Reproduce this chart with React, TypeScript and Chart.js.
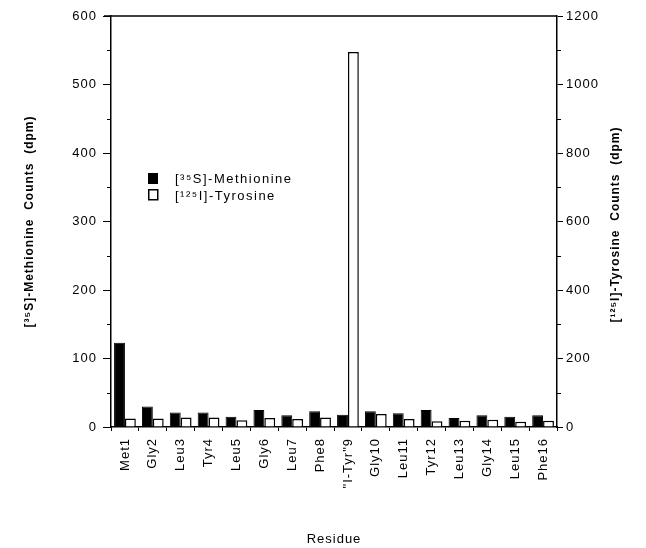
import React, { useEffect, useRef } from "react";
import { Chart, registerables } from "chart.js";

Chart.register(...registerables);

const residues = [
  "Met1", "Gly2", "Leu3", "Tyr4", "Leu5", "Gly6", "Leu7", "Phe8",
  '"I-Tyr"9', "Gly10", "Leu11", "Tyr12", "Leu13", "Gly14", "Leu15", "Phe16",
];
const methionineCounts = [123, 30, 21, 21, 15, 25, 17, 23, 18, 23, 20, 25, 13, 17, 15, 17];
const tyrosineCounts = [25, 25, 28, 28, 20, 26, 23, 28, 1095, 38, 23, 17, 18, 21, 15, 18];
const leftTicks = [0, 100, 200, 300, 400, 500, 600];
const rightTicks = [0, 200, 400, 600, 800, 1000, 1200];
const leftTitle = "[³⁵S]-Methionine  Counts  (dpm)";
const rightTitle = "[¹²⁵I]-Tyrosine  Counts  (dpm)";
const legendLabels = ["[³⁵S]-Methionine", "[¹²⁵I]-Tyrosine"];
const xTitle = "Residue";

const FONT = "'Liberation Sans', Arial, Helvetica, sans-serif";

const decorPlugin = {
  id: "decor",
  beforeInit(chart: any) {
    (chart.ctx as any).letterSpacing = "1px";
  },
  beforeDraw(chart: any) {
    (chart.ctx as any).letterSpacing = "1px";
  },
  afterDraw(chart: any) {
    const ctx = chart.ctx;
    const ca = chart.chartArea;
    const y = chart.scales.y;
    const y1 = chart.scales.y1;
    ctx.save();
    ctx.strokeStyle = "#000";
    ctx.lineWidth = 1.5;
    // top frame line
    ctx.beginPath();
    ctx.moveTo(ca.left - 7, ca.top);
    ctx.lineTo(ca.right, ca.top);
    ctx.stroke();
    // minor ticks
    ctx.lineWidth = 1;
    for (let i = 0; i < leftTicks.length - 1; i++) {
      const v = (leftTicks[i] + leftTicks[i + 1]) / 2;
      const p = Math.round(y.getPixelForValue(v)) + 0.5;
      ctx.beginPath();
      ctx.moveTo(ca.left - 4, p);
      ctx.lineTo(ca.left, p);
      ctx.stroke();
    }
    for (let i = 0; i < rightTicks.length - 1; i++) {
      const v = (rightTicks[i] + rightTicks[i + 1]) / 2;
      const p = Math.round(y1.getPixelForValue(v)) + 0.5;
      ctx.beginPath();
      ctx.moveTo(ca.right, p);
      ctx.lineTo(ca.right + 4, p);
      ctx.stroke();
    }
    // right axis title, reading bottom to top
    ctx.fillStyle = "#000";
    ctx.font = `bold 12px ${FONT}`;
    (ctx as any).letterSpacing = "1px";
    ctx.textAlign = "center";
    ctx.textBaseline = "middle";
    ctx.translate(616, (ca.top + ca.bottom) / 2 + 3);
    ctx.rotate(-Math.PI / 2);
    ctx.fillText(rightTitle, 0, 0);
    ctx.restore();

    // legend
    ctx.save();
    const lx = ca.left + 37;
    const ly = ca.top + 157;
    ctx.fillStyle = "#000";
    ctx.fillRect(lx, ly, 10, 11);
    ctx.fillStyle = "#fff";
    ctx.strokeStyle = "#000";
    ctx.lineWidth = 1.5;
    ctx.fillRect(lx, ly + 16, 10, 11);
    ctx.strokeRect(lx + 0.75, ly + 16.75, 9, 10);
    ctx.fillStyle = "#000";
    ctx.font = `13px ${FONT}`;
    (ctx as any).letterSpacing = "1.5px";
    ctx.textAlign = "left";
    ctx.textBaseline = "middle";
    ctx.fillText(legendLabels[0], lx + 27, ly + 6);
    ctx.fillText(legendLabels[1], lx + 27, ly + 23);
    ctx.restore();
  },
};

export default function App() {
  const ref = useRef<HTMLCanvasElement | null>(null);
  useEffect(() => {
    if (!ref.current) return;
    const chart = new Chart(ref.current, {
      type: "bar",
      data: {
        labels: residues,
        datasets: [
          {
            label: legendLabels[0],
            data: methionineCounts,
            yAxisID: "y",
            backgroundColor: "#000",
            borderColor: "#000",
            borderWidth: 1,
            barPercentage: 1,
            categoryPercentage: 0.78,
          },
          {
            label: legendLabels[1],
            data: tyrosineCounts,
            yAxisID: "y1",
            backgroundColor: "#fff",
            borderColor: "#000",
            borderWidth: 1.5,
            barPercentage: 1,
            categoryPercentage: 0.78,
          },
        ],
      },
      options: {
        responsive: false,
        animation: false,
        layout: { padding: { top: 16, left: 0, right: 0, bottom: 0 } },
        plugins: {
          legend: { display: false },
          tooltip: { enabled: false },
        },
        scales: {
          x: {
            grid: {
              display: true,
              drawOnChartArea: false,
              drawTicks: true,
              tickLength: 4,
              tickColor: "#000",
              offset: true,
            },
            border: { display: true, color: "#000", width: 1.5 },
            ticks: {
              autoSkip: false,
              minRotation: 90,
              maxRotation: 90,
              padding: 7,
              color: "#000",
              font: { family: FONT, size: 13 },
            },
            title: {
              display: true,
              text: xTitle,
              color: "#000",
              font: { family: FONT, size: 13 },
              padding: { top: 0, bottom: 1 },
            },
            afterFit: (s: any) => {
              s.height = 121;
            },
          },
          y: {
            position: "left",
            min: 0,
            max: 600,
            afterBuildTicks: (s: any) => {
              s.ticks = leftTicks.map((v) => ({ value: v }));
            },
            grid: {
              display: true,
              drawOnChartArea: false,
              drawTicks: true,
              tickLength: 8,
              tickColor: "#000",
            },
            border: { display: true, color: "#000", width: 1.5 },
            ticks: {
              padding: 6,
              color: "#000",
              font: { family: FONT, size: 13 },
              callback: (v: any) => String(v),
            },
            title: {
              display: true,
              text: leftTitle,
              color: "#000",
              font: { family: FONT, size: 12, weight: "bold" },
              padding: { top: 22, bottom: 0 },
            },
            afterFit: (s: any) => {
              s.width = 111;
            },
          },
          y1: {
            position: "right",
            min: 0,
            max: 1200,
            afterBuildTicks: (s: any) => {
              s.ticks = rightTicks.map((v) => ({ value: v }));
            },
            grid: {
              display: true,
              drawOnChartArea: false,
              drawTicks: true,
              tickLength: 6,
              tickColor: "#000",
            },
            border: { display: true, color: "#000", width: 1.5 },
            ticks: {
              padding: 3,
              color: "#000",
              font: { family: FONT, size: 13 },
              callback: (v: any) => String(v),
            },
            afterFit: (s: any) => {
              s.width = 89;
            },
          },
        },
      },
      plugins: [decorPlugin],
    } as any);
    return () => chart.destroy();
  }, []);
  return (
    <div
      style={{
        position: "fixed",
        left: 0,
        top: 0,
        width: 646,
        height: 548,
        background: "#fff",
      }}
    >
      <canvas ref={ref} width={646} height={548} style={{ width: 646, height: 548 }} />
    </div>
  );
}
